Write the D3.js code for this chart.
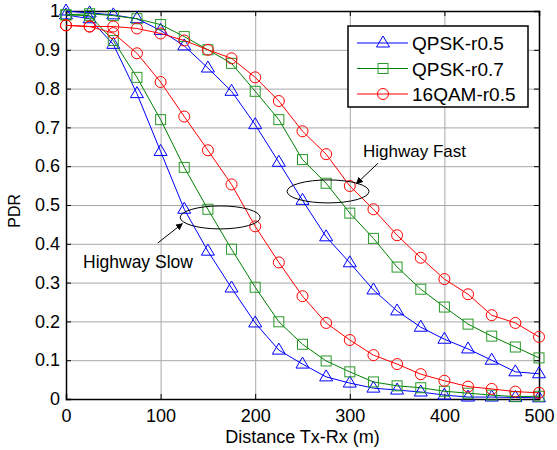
<!DOCTYPE html>
<html>
<head>
<meta charset="utf-8">
<script src="https://cdn.jsdelivr.net/npm/d3@7"></script>
<style>
  body { margin: 0; background: #fff; }
  svg { display: block; }
  text { font-family: "Liberation Sans", Arial, sans-serif; }
</style>
</head>
<body>
<svg id="chart"></svg>
<script>
var width = 557;
var height = 450;

// distance Tx-Rx (m)
const distance = [0, 25, 50, 75, 100, 125, 150, 175, 200, 225, 250, 275, 300, 325, 350, 375, 400, 425, 450, 475, 500];

// Highway Slow
const qpsk05Slow = [0.99, 0.98, 0.914, 0.787, 0.638, 0.489, 0.381, 0.286, 0.196, 0.126, 0.09, 0.057, 0.041, 0.028, 0.023, 0.018, 0.01, 0.005, 0.005, 0.004, 0.003];
const qpsk07Slow = [0.99, 0.988, 0.924, 0.829, 0.72, 0.597, 0.489, 0.386, 0.288, 0.199, 0.141, 0.098, 0.07, 0.044, 0.034, 0.029, 0.02, 0.015, 0.01, 0.006, 0.007];
const qam16Slow  = [0.963, 0.96, 0.943, 0.891, 0.817, 0.728, 0.641, 0.553, 0.445, 0.352, 0.265, 0.196, 0.152, 0.113, 0.09, 0.064, 0.047, 0.032, 0.026, 0.019, 0.016];

// Highway Fast
const qpsk05Fast = [1.0, 0.995, 0.99, 0.98, 0.95, 0.91, 0.853, 0.793, 0.707, 0.61, 0.512, 0.418, 0.351, 0.281, 0.227, 0.185, 0.154, 0.129, 0.1, 0.07, 0.065];
const qpsk07Fast = [0.99, 0.993, 0.988, 0.98, 0.965, 0.934, 0.9, 0.865, 0.793, 0.72, 0.617, 0.556, 0.479, 0.414, 0.34, 0.283, 0.237, 0.193, 0.162, 0.134, 0.106];
const qam16Fast  = [0.963, 0.96, 0.96, 0.955, 0.942, 0.924, 0.9, 0.878, 0.829, 0.768, 0.69, 0.631, 0.549, 0.489, 0.422, 0.364, 0.309, 0.27, 0.216, 0.196, 0.16];

const seriesNames = ["QPSK-r0.5", "QPSK-r0.7", "16QAM-r0.5"];
const xTicks = [0, 100, 200, 300, 400, 500];
const yTicks = [0, 0.1, 0.2, 0.3, 0.4, 0.5, 0.6, 0.7, 0.8, 0.9, 1];

const colors = {"QPSK-r0.5": "#0000ff", "QPSK-r0.7": "#008000", "16QAM-r0.5": "#ff0000"};
const markerColors = {"QPSK-r0.5": "#0000ff", "QPSK-r0.7": "#2a9a2a", "16QAM-r0.5": "#ff0000"};
const shapes = {"QPSK-r0.5": "tri", "QPSK-r0.7": "sq", "16QAM-r0.5": "circ"};

let series = [
    {name: "QPSK-r0.5", values: qpsk05Slow},
    {name: "QPSK-r0.5", values: qpsk05Fast},
    {name: "QPSK-r0.7", values: qpsk07Slow},
    {name: "QPSK-r0.7", values: qpsk07Fast},
    {name: "16QAM-r0.5", values: qam16Slow},
    {name: "16QAM-r0.5", values: qam16Fast}
];

const margin = {left: 66, right: 18, top: 11, bottom: 51};

var svg = d3.select("#chart")
    .attr("width", width)
    .attr("height", height);

let x = d3.scaleLinear().domain([0, 500]).range([margin.left, width - margin.right]);
let y = d3.scaleLinear().domain([0, 1]).range([height - margin.bottom, margin.top]);

// grid
let grid = svg.append("g").attr("stroke", "#a8a8a8").attr("stroke-width", 1);
grid.selectAll(".gx")
    .data(xTicks.slice(1, -1))
    .join("line")
    .attr("x1", d => x(d) + 0.5).attr("x2", d => x(d) + 0.5)
    .attr("y1", y(0)).attr("y2", y(1));
grid.selectAll(".gy")
    .data(yTicks.slice(1, -1))
    .join("line")
    .attr("x1", x(0)).attr("x2", x(500))
    .attr("y1", d => y(d) + 0.5).attr("y2", d => y(d) + 0.5);

// axes
let xAxis = svg.append("g")
    .attr("transform", `translate(0,${y(0)})`)
    .call(d3.axisBottom(x).tickValues(xTicks).tickSize(-5).tickPadding(10).tickFormat(d3.format("d")));
let yAxis = svg.append("g")
    .attr("transform", `translate(${x(0)},0)`)
    .call(d3.axisLeft(y).tickValues(yTicks).tickSize(-5).tickPadding(6).tickFormat(d => d === 0 || d === 1 ? d : d3.format(".1f")(d)));
let xTop = svg.append("g")
    .attr("transform", `translate(0,${y(1)})`)
    .call(d3.axisTop(x).tickValues(xTicks).tickSize(-5).tickFormat(""));
let yRight = svg.append("g")
    .attr("transform", `translate(${x(500)},0)`)
    .call(d3.axisRight(y).tickValues(yTicks).tickSize(-5).tickFormat(""));

[xAxis, yAxis, xTop, yRight].forEach(a => {
    a.select(".domain").attr("stroke", "#000").attr("stroke-width", 1.5);
    a.selectAll(".tick line").attr("stroke", "#000");
    a.selectAll("text").attr("font-size", 18).attr("fill", "#000")
        .attr("font-family", "'Liberation Sans', Arial, sans-serif");
});

// markers
function marker(sel, shape, color) {
    if (shape === "tri")
        sel.append("path").attr("d", "M0,-7L6.5,4L-6.5,4Z");
    else if (shape === "sq")
        sel.append("rect").attr("x", -5).attr("y", -5).attr("width", 10).attr("height", 10);
    else
        sel.append("circle").attr("r", 5.5);
    sel.attr("fill", "none").attr("stroke", color).attr("stroke-width", 1);
}

let line = d3.line().x((d, i) => x(distance[i])).y(d => y(d));
let plots = svg.append("g");
for (let s of series) {
    let g = plots.append("g");
    g.append("path")
        .attr("d", line(s.values))
        .attr("fill", "none")
        .attr("stroke", colors[s.name])
        .attr("stroke-width", 1);
    g.selectAll(".m")
        .data(s.values)
        .join("g")
        .attr("transform", (d, i) => `translate(${x(distance[i])},${y(d)})`)
        .each(function () { marker(d3.select(this), shapes[s.name], markerColors[s.name]); });
}

// annotations
let ann = svg.append("g");
svg.append("defs").append("marker")
    .attr("id", "arrow")
    .attr("viewBox", "0 0 10 10")
    .attr("refX", 9).attr("refY", 5)
    .attr("markerWidth", 7).attr("markerHeight", 7)
    .attr("orient", "auto")
    .append("path").attr("d", "M0,0L10,5L0,10Z").attr("fill", "#000");

// Highway Slow
ann.append("ellipse")
    .attr("cx", x(163)).attr("cy", y(0.468))
    .attr("rx", 40).attr("ry", 11.5)
    .attr("fill", "none").attr("stroke", "#000").attr("stroke-width", 1);
ann.append("line")
    .attr("x1", x(97)).attr("y1", y(0.402))
    .attr("x2", x(123)).attr("y2", y(0.452))
    .attr("stroke", "#000").attr("marker-end", "url(#arrow)");
ann.append("text")
    .attr("x", 83).attr("y", y(0.338))
    .attr("font-family", "Lato, 'Open Sans', sans-serif")
    .attr("font-size", 17.5)
    .text("Highway Slow");

// Highway Fast
ann.append("ellipse")
    .attr("cx", x(277)).attr("cy", y(0.535))
    .attr("rx", 41).attr("ry", 11.5)
    .attr("fill", "none").attr("stroke", "#000").attr("stroke-width", 1);
ann.append("line")
    .attr("x1", x(330)).attr("y1", y(0.608))
    .attr("x2", x(307)).attr("y2", y(0.555))
    .attr("stroke", "#000").attr("marker-end", "url(#arrow)");
ann.append("text")
    .attr("x", 363).attr("y", y(0.623))
    .attr("font-family", "Lato, 'Open Sans', sans-serif")
    .attr("font-size", 17)
    .text("Highway Fast");

// legend
let legend = svg.append("g").attr("transform", "translate(348,26)");
legend.append("rect")
    .attr("width", 180).attr("height", 81)
    .attr("fill", "#fff").attr("stroke", "#000").attr("stroke-width", 1.5);
seriesNames.forEach((name, i) => {
    let row = legend.append("g").attr("transform", `translate(0,${17 + i * 25.5})`);
    row.append("line").attr("x1", 9).attr("x2", 60)
        .attr("stroke", colors[name]).attr("stroke-width", 1);
    let m = row.append("g").attr("transform", "translate(35,0)");
    marker(m, shapes[name], markerColors[name]);
    row.append("text")
        .attr("x", 64).attr("y", 7)
        .attr("font-size", 19)
        .text(name);
});

// axis titles
svg.append("text")
    .attr("x", x(250)).attr("y", 443)
    .attr("text-anchor", "middle")
    .attr("font-size", 18)
    .text("Distance Tx-Rx (m)");
svg.append("text")
    .attr("transform", `translate(20,${y(0.485)}) rotate(-90)`)
    .attr("text-anchor", "middle")
    .attr("font-size", 16)
    .text("PDR");
</script>
</body>
</html>
